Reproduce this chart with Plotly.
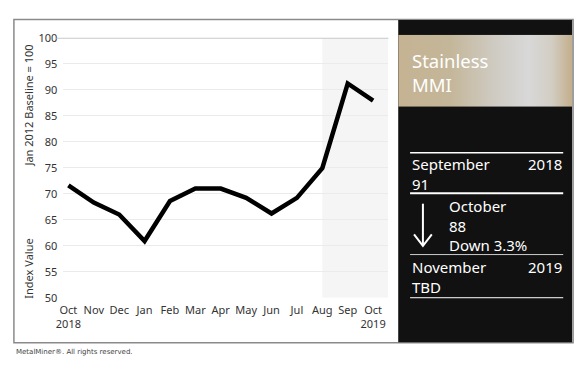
import plotly.graph_objects as go

# ---- data ----
months = ["Oct", "Nov", "Dec", "Jan", "Feb", "Mar", "Apr", "May", "Jun", "Jul", "Aug", "Sep", "Oct"]
years = {0: "2018", 12: "2019"}
values = [71.6, 68.3, 66.0, 60.9, 68.6, 71.0, 71.0, 69.2, 66.2, 69.2, 74.9, 91.2, 87.9]
y_ticks = [50, 55, 60, 65, 70, 75, 80, 85, 90, 95, 100]
shade_from = "Aug"
title_lines = ["Stainless", "MMI"]
panel_rows = [("September", "2018", "91"), ("November", "2019", "TBD")]
current = ["October", "88", "Down 3.3%"]
footer = "MetalMiner\u00ae. All rights reserved."

W, H = 580, 369
FONT = "Noto Sans"


def px(x):
    return x / W


def py(y):
    return (H - y) / H


idx = list(range(len(months)))
ticktext = [m + ("<br>" + years[i] if i in years else "") for i, m in enumerate(months)]
x_range = [-0.2, len(months) - 1 + 0.6]

fig = go.Figure()
fig.add_trace(go.Scatter(
    x=idx, y=values, mode="lines",
    line=dict(color="black", width=4.5),
    hoverinfo="skip", showlegend=False,
))

# metallic gradient band
fig.add_trace(go.Scatter(
    x=[0, 1, 1, 0, 0], y=[0, 0, 1, 1, 0], mode="lines", fill="toself",
    line=dict(width=0),
    fillgradient=dict(type="horizontal", colorscale=[
        [0.0, "#c5b393"], [0.3, "#c4b699"], [0.55, "#cfcbc2"],
        [0.75, "#d8d8d8"], [0.88, "#d3cec4"], [1.0, "#c3ae8c"]]),
    xaxis="x2", yaxis="y2", hoverinfo="skip", showlegend=False,
))

shapes = []
shapes.append(dict(type="rect", xref="paper", yref="paper",
                   x0=px(7), x1=px(573), y0=py(349), y1=py(12),
                   line=dict(color="#8a8a8a", width=1.5), fillcolor="white", layer="below"))
shapes.append(dict(type="rect", xref="x", yref="y",
                   x0=months.index(shade_from), x1=x_range[1], y0=50, y1=100,
                   line=dict(width=0), fillcolor="#f5f5f5", layer="below"))
shapes.append(dict(type="line", xref="paper", yref="y",
                   x0=px(50), x1=px(386), y0=100, y1=100,
                   line=dict(color="#c8c8c8", width=2)))
shapes.append(dict(type="rect", xref="paper", yref="paper",
                   x0=px(396), x1=px(572), y0=py(348.5), y1=py(12.5),
                   line=dict(width=0), fillcolor="#111111", layer="below"))
for yy, wd, col in [(151, 1.5, "white"), (193, 2, "white"), (257, 1, "#cccccc"), (302, 1, "white")]:
    shapes.append(dict(type="line", xref="paper", yref="paper",
                       x0=px(408), x1=px(563), y0=py(yy), y1=py(yy),
                       line=dict(color=col, width=wd)))
shapes.append(dict(type="line", xref="paper", yref="paper",
                   x0=px(421), x1=px(421), y0=py(204), y1=py(248),
                   line=dict(color="white", width=2)))
shapes.append(dict(type="path", xref="paper", yref="paper",
                   path=f"M {px(412)},{py(236)} L {px(421)},{py(248)} L {px(430)},{py(236)}",
                   line=dict(color="white", width=2)))

ann = []


def add(text, x, y, size, color="white", xanchor="left", family=FONT, angle=0):
    ann.append(dict(text=text, x=px(x), y=py(y), xref="paper", yref="paper",
                    xanchor=xanchor, yanchor="middle", textangle=angle, showarrow=False,
                    align="left", font=dict(family=family, size=size, color=color)))


add("Jan 2012 Baseline = 100", 22, 102, 11, "#333", "center", angle=-90)
add("Index Value", 22, 272, 11, "#333", "center", angle=-90)
add("<br>".join(title_lines), 408, 67, 18.5)
for (mon, yr, val), y0 in zip(panel_rows, [173, 280]):
    add(mon + "<br>" + val, 408, y0, 15)
    add(yr, 564, y0 - 10, 15, xanchor="right")
add("<br>".join(current), 445, 227, 15)
add(footer, 7, 359, 7, "#444", family="DejaVu Sans")

fig.update_layout(
    width=W, height=H, autosize=False,
    margin=dict(l=0, r=0, t=0, b=0, pad=0),
    paper_bgcolor="white", plot_bgcolor="rgba(0,0,0,0)",
    xaxis=dict(domain=[px(57), px(386)], range=x_range, tickmode="array", tickvals=idx,
               ticktext=ticktext, showgrid=False, zeroline=False, showline=False,
               ticks="", ticklabelstandoff=4,
               tickfont=dict(family=FONT, size=11, color="#333")),
    yaxis=dict(domain=[py(302), py(31)], range=[50, 100], tickmode="array", tickvals=y_ticks,
               showgrid=True, gridcolor="#ebebeb", gridwidth=1, zeroline=False, showline=False,
               ticks="", ticklabelstandoff=5,
               tickfont=dict(family=FONT, size=11, color="#333")),
    xaxis2=dict(domain=[px(396), px(572)], range=[0, 1], visible=False, fixedrange=True),
    yaxis2=dict(domain=[py(103), py(28)], range=[0, 1], visible=False, fixedrange=True,
                anchor="x2"),
    shapes=shapes, annotations=ann, showlegend=False,
)

fig.write_html(
    "out.html",
    config={"displayModeBar": False},
    post_script="document.body.style.margin='0';document.body.style.overflow='hidden';",
)
